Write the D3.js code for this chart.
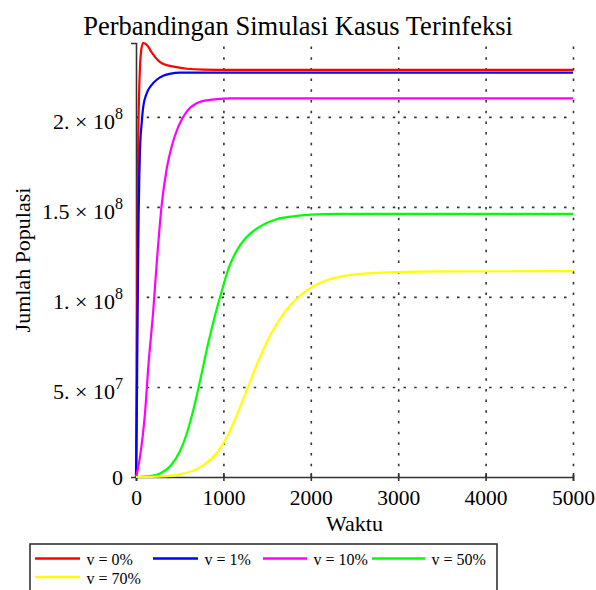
<!DOCTYPE html>
<html>
<head>
<meta charset="utf-8">
<script src="https://cdn.jsdelivr.net/npm/d3@7"></script>
<style>
  html, body { margin: 0; padding: 0; background: #fff; }
  svg { display: block; }
  text { font-family: "Liberation Serif", "Times New Roman", serif; fill: #000; }
</style>
</head>
<body>
<svg id="chart" width="596" height="590"></svg>
<script>
// Simulated infected population over time for several vaccination rates v.
const seriesNames = ["v = 0%", "v = 1%", "v = 10%", "v = 50%", "v = 70%"];
const seriesColors = ["#ff0000", "#0000ff", "#ff00ff", "#00ff00", "#ffff00"];

// time samples (Waktu) and infected counts (in units of 1e8) for each series
const tV0 = [0, 8, 15, 25, 35, 45, 60, 80, 110, 140, 170, 200, 240, 280, 330, 430, 580, 770, 1000, 5000];
const yV0 = [0, 0.6, 1.15, 1.85, 2.12, 2.27, 2.37, 2.41, 2.405, 2.39, 2.365, 2.344, 2.32, 2.303, 2.29, 2.279, 2.267, 2.262, 2.261, 2.261];

const tV1 = [0, 8, 15, 22, 30, 38, 46, 65, 83, 122, 180, 237, 312, 400, 503, 700, 5000];
const yV1 = [0, 0.3, 0.7, 1.1, 1.45, 1.67, 1.82, 1.965, 2.057, 2.13, 2.178, 2.206, 2.228, 2.24, 2.245, 2.246, 2.246];

const tV10 = [0, 20, 46, 75, 103, 141, 198, 237, 294, 351, 408, 484, 580, 694, 846, 1075, 1500, 5000];
const yV10 = [0, 0.04, 0.113, 0.22, 0.354, 0.613, 0.928, 1.187, 1.511, 1.71, 1.835, 1.946, 2.029, 2.076, 2.094, 2.102, 2.103, 2.103];

const tV50 = [0, 150, 275, 390, 500, 580, 660, 740, 820, 900, 980, 1060, 1150, 1260, 1400, 1600, 1800, 2000, 2300, 5000];
const yV50 = [0, 0.005, 0.02, 0.06, 0.14, 0.24, 0.38, 0.55, 0.73, 0.89, 1.03, 1.16, 1.255, 1.33, 1.385, 1.43, 1.448, 1.457, 1.461, 1.461];

const tV70 = [0, 300, 500, 700, 850, 950, 1050, 1150, 1250, 1350, 1450, 1550, 1650, 1750, 1850, 1950, 2050, 2200, 2400, 2700, 3000, 3500, 5000];
const yV70 = [0, 0.004, 0.015, 0.045, 0.095, 0.15, 0.23, 0.34, 0.46, 0.585, 0.70, 0.80, 0.88, 0.945, 0.995, 1.035, 1.065, 1.095, 1.118, 1.132, 1.138, 1.142, 1.143];

const seriesT = [tV0, tV1, tV10, tV50, tV70];
const seriesY = [yV0, yV1, yV10, yV50, yV70];

// axis ticks
const xTicks = [0, 1000, 2000, 3000, 4000, 5000];
const yTicks = [0, 5e7, 1e8, 1.5e8, 2e8];
const yTickMantissa = ["0", "5.", "1.", "1.5", "2."];
const yTickExponent = ["", "7", "8", "8", "8"];

const titleText = "Perbandingan Simulasi Kasus Terinfeksi";
const xLabel = "Waktu";
const yLabel = "Jumlah Populasi";

const svg = d3.select("#chart");
const plotLeft = 136, plotRight = 573, plotTop = 43, plotBottom = 477;

const series = seriesNames.map((name, i) => ({
  name, color: seriesColors[i],
  points: seriesT[i].map((t, j) => ({ t, v: seriesY[i][j] * 1e8 }))
}));

const yMax = d3.max(series, s => d3.max(s.points, p => p.v));
const x = d3.scaleLinear().domain([0, 5000]).range([plotLeft, plotRight]);
const y = d3.scaleLinear().domain([0, yMax]).range([plotBottom, plotTop]);

// dotted grid
const gridX = svg.append("g").attr("transform", `translate(0,${plotBottom})`)
  .call(d3.axisBottom(x).tickValues(xTicks.slice(1)).tickSize(-(plotBottom - plotTop)).tickFormat(""));
const gridY = svg.append("g").attr("transform", `translate(${plotLeft},0)`)
  .call(d3.axisLeft(y).tickValues(yTicks.slice(1)).tickSize(-(plotRight - plotLeft)).tickFormat(""));
[gridX, gridY].forEach(g => {
  g.select(".domain").remove();
  g.selectAll(".tick line").attr("stroke", "#333").attr("stroke-width", 1.6).attr("stroke-dasharray", "2.5,8.2");
});

// axes
const xAxis = svg.append("g").attr("transform", `translate(0,${plotBottom})`)
  .call(d3.axisBottom(x).tickValues(xTicks).tickSize(4).tickFormat(d3.format("d")));
xAxis.selectAll(".tick line").attr("y1", -4);
xAxis.selectAll("text").attr("font-size", 21.5).attr("dy", 0).attr("y", 28);

const yAxis = svg.append("g").attr("transform", `translate(${plotLeft},0)`)
  .call(d3.axisLeft(y).tickValues(yTicks).tickSize(5).tickFormat(""));
yAxis.selectAll(".tick line").attr("x2", 2);
[xAxis, yAxis].forEach(g => {
  g.select(".domain").attr("stroke", "#333").attr("stroke-width", 1.6);
  g.selectAll(".tick line").attr("stroke", "#333").attr("stroke-width", 1.6);
  g.attr("font-family", null).attr("font-size", null);
});

yAxis.selectAll(".tick").each(function (d, i) {
  const t = d3.select(this).append("text").attr("text-anchor", "end").attr("x", -13)
    .attr("font-size", 22);
  if (yTickExponent[i] === "") {
    t.attr("y", 7.5).text(yTickMantissa[i]);
  } else {
    t.attr("y", 12);
    t.append("tspan").text(yTickMantissa[i] + " \u00d7 10");
    t.append("tspan").attr("dy", -10).attr("font-size", 16).text(yTickExponent[i]);
  }
});

// curves
const line = d3.line().x(p => x(p.t)).y(p => y(p.v)).curve(d3.curveMonotoneX);
svg.append("g").selectAll("path").data(series).join("path")
  .attr("d", s => line(s.points))
  .attr("fill", "none").attr("stroke", s => s.color).attr("stroke-width", 2.2);

// titles
svg.append("text").attr("x", 298).attr("y", 35).attr("text-anchor", "middle")
  .attr("font-size", 26.5).text(titleText);
svg.append("text").attr("x", (plotLeft + plotRight) / 2).attr("y", 531).attr("text-anchor", "middle")
  .attr("font-size", 22).text(xLabel);
svg.append("text").attr("transform", `translate(30,${(plotTop + plotBottom) / 2}) rotate(-90)`)
  .attr("text-anchor", "middle").attr("font-size", 22).text(yLabel);

// legend
const legend = svg.append("g");
legend.append("rect").attr("x", 30).attr("y", 544).attr("width", 467).attr("height", 60)
  .attr("fill", "#fff").attr("stroke", "#333").attr("stroke-width", 1.6);
const legendPos = [[35, 558.5, 45], [153, 558.5, 45], [263, 558.5, 44], [372, 558.5, 53], [35, 577, 45]];
series.forEach((s, i) => {
  const [lx, ly, len] = legendPos[i];
  legend.append("line").attr("x1", lx).attr("x2", lx + len).attr("y1", ly).attr("y2", ly)
    .attr("stroke", s.color).attr("stroke-width", 2.6);
  legend.append("text").attr("x", lx + len + 6.5).attr("y", ly + 6.5).attr("font-size", 16).text(s.name);
});
</script>
</body>
</html>
